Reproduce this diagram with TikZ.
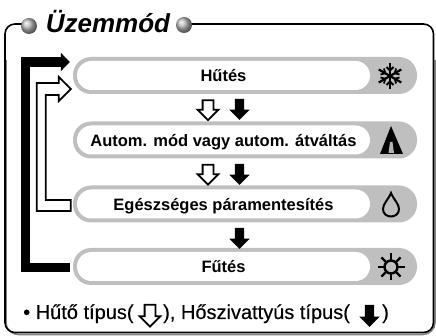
\documentclass[tikz,border=0pt]{standalone}
\usepackage{fontspec}
\setmainfont{Liberation Sans}
\newfontfamily\footerfont[FakeBold=0.25]{Liberation Sans}
\usetikzlibrary{arrows.meta,shapes.arrows}
\tikzset{
  modepill/.style={fill=white, rounded corners=14.5pt, minimum width=293pt, minimum height=29pt, inner sep=0pt, text height=16pt, text depth=3pt, font=\fontsize{16.5}{18}\selectfont\bfseries},
  coolarrow/.style={draw=black, fill=white, line width=1.8pt, shape=single arrow, single arrow head extend=5pt, inner sep=4.5pt, minimum height=20pt, shape border rotate=270},
  heatarrow/.style={fill=black, shape=single arrow, single arrow head extend=5.5pt, inner sep=4.5pt, minimum height=21pt, shape border rotate=270},
  footer/.style={inner sep=0pt, anchor=base west, font=\fontsize{20}{22}\footerfont},
  grayball/.style={circle, inner sep=0pt, minimum size=16pt, ball color=gray!55}
}
\begin{document}
\begin{tikzpicture}[x=1pt, y=-1pt]
\useasboundingbox (0,0) rectangle (436,336);
% Frame
\draw[gray, line width=1.5pt, rounded corners=12pt] (6,60) -- (6,334.5) -- (435,334.5) -- (435,60);
\draw[line width=1.6pt, rounded corners=10pt] (29,24) -- (5,24) -- (5,332.5) -- (433.5,332.5) -- (433.5,24) -- (184,24);
\node[grayball] (ballleft) at (29,26) {};
\node[grayball] (ballright) at (184,25) {};
\node[inner sep=0pt, anchor=base, font=\fontsize{26}{30}\selectfont\bfseries\itshape] (title) at (108,32.5) {Üzemmód};

% Mode bars
\foreach \y in {75.5, 140, 204, 266.5}
  \fill[gray!50, rounded corners=18pt] (73,\y-18.5) rectangle (417,\y+18.5);
\node[modepill] (cool) at (223.5,75.5) {Hűtés};
\node[modepill] (auto) at (223.5,140) {Autom. mód vagy autom. átváltás};
\node[modepill] (dry) at (223.5,204) {Egészséges páramentesítés};
\node[modepill] (heat) at (223.5,266.5) {Fűtés};

% Loops on the left
\draw[line width=9.5pt, -{Triangle[length=9pt,width=18pt]}] ([xshift=-7pt,yshift=-1pt]heat.west) -- ++(-44.5,0) |- ([xshift=-7pt,yshift=13.5pt]cool.west);
\draw[line width=1.8pt, fill=white] ([xshift=-6pt,yshift=4pt]dry.west) -- ++(-25,0) -- ++(0,-105) -- ++(13,0) -- ++(0,6) -- ++(12,-12) -- ++(-12,-12) -- ++(0,6) -- ++(-22,0) -- ++(0,128) -- ++(34,0) -- cycle;

% Arrows between bars
\node[coolarrow] (down1) at (208,107.5) {};
\node[heatarrow] (hot1) at (239.5,107) {};
\node[coolarrow] (down2) at (208,172) {};
\node[heatarrow] (hot2) at (239.5,172) {};
\node[heatarrow] (hot3) at (239.5,236) {};

% Icons
\begin{scope}[shift={(390,76)}]
  \foreach \a in {0,60,120}{
    \draw[line width=2.2pt, rotate=\a+90] (-13,0) -- (13,0);
    \draw[line width=1.8pt, rotate=\a+90] (-9,-3.5) -- (-5.5,0) -- (-9,3.5);
    \draw[line width=1.8pt, rotate=\a+90] (9,-3.5) -- (5.5,0) -- (9,3.5);
  }
\end{scope}
\fill (391,126) -- (380,154) -- (403,154) -- cycle;
\fill[gray!60] (390,142) -- (392.5,142) -- (394,153) -- (388.5,153) -- cycle;
\draw[line width=2pt] (391,193) .. controls (388,200) and (383,204) .. (383,209) .. controls (383,219) and (399,219) .. (399,209) .. controls (399,204) and (394,200) .. (391,193) -- cycle;
\begin{scope}[shift={(391,267)}]
  \draw[line width=2.4pt] (0,0) circle (6.5);
  \foreach \a in {0,45,...,315}
    \draw[line width=2.2pt, rotate=\a] (7,0) -- (13.5,0);
\end{scope}

% Footer
\node[footer] (noteone) at (23,319) {• Hűtő típus(};
\node[coolarrow, minimum height=22pt] (keycool) at (150,313) {};
\node[footer] (notetwo) at (163,319) {), Hőszivattyús típus(};
\node[heatarrow, minimum height=22pt] (keyheat) at (369.5,313.5) {};
\node[footer] (notethree) at (382,319) {)};
\end{tikzpicture}
\end{document}
